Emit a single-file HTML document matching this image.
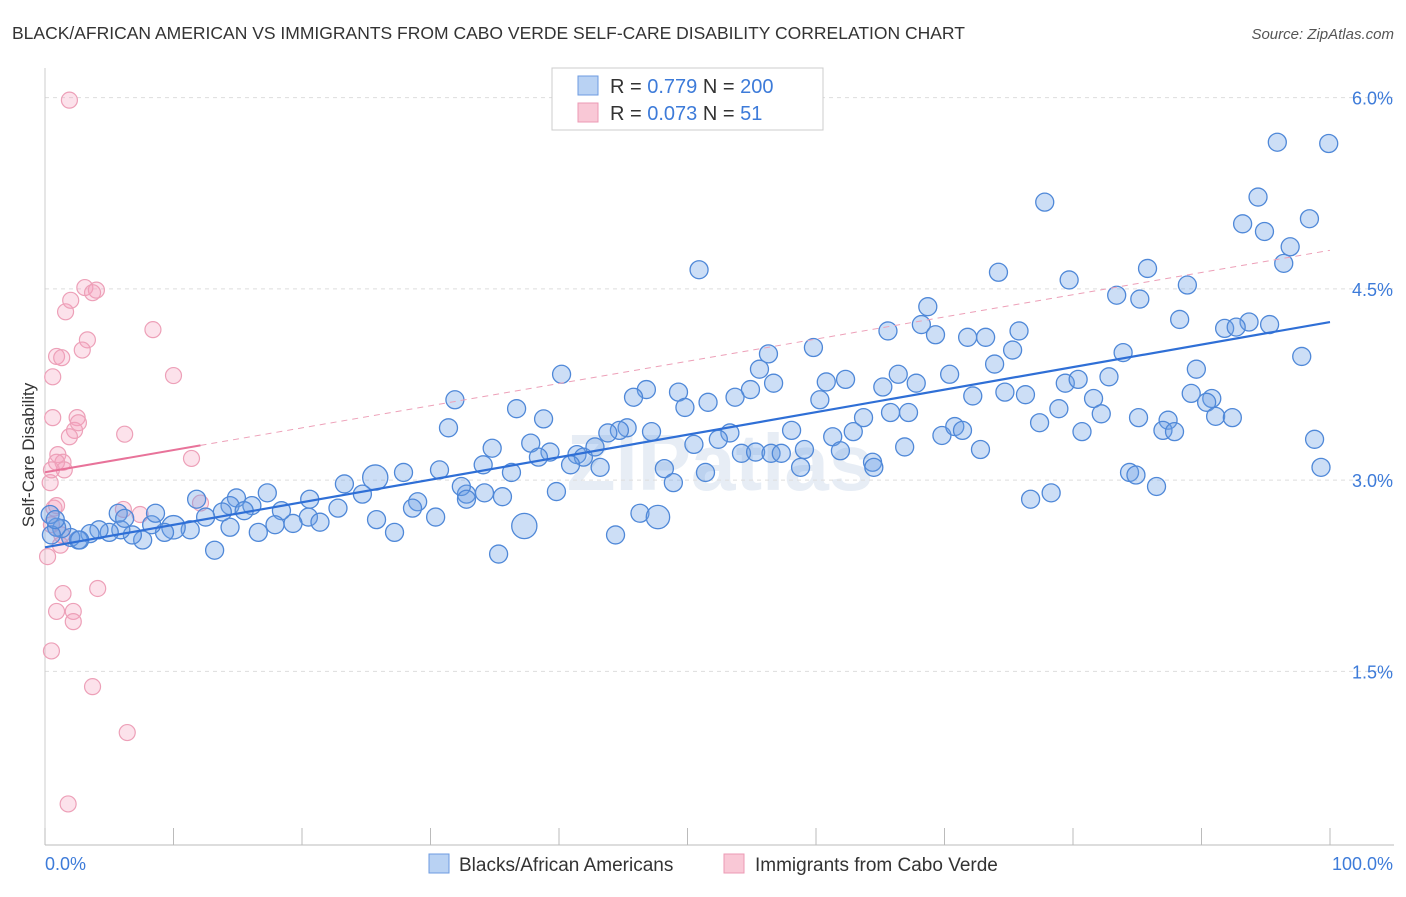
<!DOCTYPE html>
<html><head><meta charset="utf-8"><style>
body{margin:0;background:#fff;font-family:"Liberation Sans",sans-serif}
svg text{font-family:"Liberation Sans",sans-serif}
</style></head><body>
<svg id="chart" width="1406" height="892" xmlns="http://www.w3.org/2000/svg">
<text x="12" y="39" font-size="17.5" fill="#333">BLACK/AFRICAN AMERICAN VS IMMIGRANTS FROM CABO VERDE SELF-CARE DISABILITY CORRELATION CHART</text>
<text x="1394" y="39" font-size="15" fill="#555" text-anchor="end" font-style="italic">Source: ZipAtlas.com</text>
<text x="720" y="490" font-size="80" fill="#dde6f2" text-anchor="middle" font-weight="bold" opacity="0.7">ZIPatlas</text>
<g id="grid"></g><g id="axes"></g><g id="pts"></g><g id="trend"></g>
<text transform="translate(34,455) rotate(-90)" font-size="17" fill="#333" text-anchor="middle">Self-Care Disability</text>
<g>
<rect x="552" y="68" width="271" height="62" fill="#fff" stroke="#ccc"/>
<rect x="578" y="76" width="20" height="19" fill="#b9d2f3" stroke="#6d9be0"/>
<rect x="578" y="103" width="20" height="19" fill="#f9c8d6" stroke="#ec9ab4"/>
<text x="610" y="93" font-size="20" fill="#333">R = <tspan fill="#3d7bd9">0.779</tspan>   N = <tspan fill="#3d7bd9">200</tspan></text>
<text x="610" y="120" font-size="20" fill="#333">R = <tspan fill="#3d7bd9">0.073</tspan>   N =   <tspan fill="#3d7bd9">  51</tspan></text>
</g>
<g>
<rect x="429" y="854" width="20" height="19" fill="#b9d2f3" stroke="#6d9be0"/>
<text x="459" y="871" font-size="19" fill="#333">Blacks/African Americans</text>
<rect x="724" y="854" width="20" height="19" fill="#f9c8d6" stroke="#ec9ab4"/>
<text x="755" y="871" font-size="19" fill="#333">Immigrants from Cabo Verde</text>
</g>
</svg>
<script>
const yTicks=[1.5,3.0,4.5,6.0];
const yTickLabels=["1.5%","3.0%","4.5%","6.0%"];
const xLabels=["0.0%","100.0%"];
const blueX=[95.9,99.9,77.8,94.4,93.2,94.9,98.4,96.9,96.4,50.9,74.2,85.8,79.7,88.9,83.4,85.2,68.7,68.2,69.3,75.8,88.3,93.7,95.3,91.8,92.7,71.8,73.2,65.6,75.3,83.9,97.8,59.8,56.3,55.6,73.9,89.6,40.2,60.8,62.3,65.2,66.4,67.8,70.4,82.8,79.4,80.4,56.7,54.9,53.7,49.3,51.6,46.8,45.8,31.9,36.7,38.8,49.8,60.3,72.2,74.7,76.3,89.2,90.8,90.4,81.6,78.9,82.2,91.1,92.4,85.1,87.4,87.0,87.9,80.7,65.8,67.2,63.7,31.4,45.3,44.7,43.8,47.2,58.1,61.3,62.9,69.8,70.8,71.4,53.3,52.4,50.5,34.8,37.8,39.3,41.4,41.9,42.8,54.2,55.3,56.5,57.3,59.1,61.9,66.9,72.8,77.4,98.8,99.3,38.4,43.2,40.9,48.2,51.4,58.8,64.4,64.5,84.4,84.9,86.5,78.3,76.7,48.9,39.8,34.1,36.3,30.7,27.9,25.7,23.3,24.7,29.0,28.6,32.8,32.4,34.2,35.6,32.8,30.4,25.8,22.8,20.6,20.5,19.3,18.4,17.3,16.1,14.9,14.4,15.5,13.8,11.8,12.5,16.6,14.4,13.2,11.3,10.0,9.3,8.3,7.6,6.8,5.9,5.0,4.2,3.5,2.6,2.0,1.3,0.9,0.5,0.4,5.7,6.2,8.6,27.2,37.3,46.3,47.7,44.4,35.3,21.4,17.9,0.8,2.7];
const blueY=[5.65,5.64,5.18,5.22,5.01,4.95,5.05,4.83,4.70,4.65,4.63,4.66,4.57,4.53,4.45,4.42,4.36,4.22,4.14,4.17,4.26,4.24,4.22,4.19,4.20,4.12,4.12,4.17,4.02,4.00,3.97,4.04,3.99,3.87,3.91,3.87,3.83,3.77,3.79,3.73,3.83,3.76,3.83,3.81,3.76,3.79,3.76,3.71,3.65,3.69,3.61,3.71,3.65,3.63,3.56,3.48,3.57,3.63,3.66,3.69,3.67,3.68,3.64,3.61,3.64,3.56,3.52,3.50,3.49,3.49,3.47,3.39,3.38,3.38,3.53,3.53,3.49,3.41,3.41,3.39,3.37,3.38,3.39,3.34,3.38,3.35,3.42,3.39,3.37,3.32,3.28,3.25,3.29,3.22,3.20,3.18,3.26,3.21,3.22,3.21,3.21,3.24,3.23,3.26,3.24,3.45,3.32,3.10,3.18,3.10,3.12,3.09,3.06,3.10,3.14,3.10,3.06,3.04,2.95,2.90,2.85,2.98,2.91,3.12,3.06,3.08,3.06,3.02,2.97,2.89,2.83,2.78,2.89,2.95,2.90,2.87,2.85,2.71,2.69,2.78,2.85,2.71,2.66,2.76,2.90,2.80,2.86,2.80,2.76,2.75,2.85,2.71,2.59,2.63,2.45,2.61,2.63,2.59,2.65,2.53,2.57,2.61,2.59,2.61,2.58,2.53,2.55,2.62,2.63,2.57,2.73,2.74,2.70,2.74,2.59,2.64,2.74,2.71,2.57,2.42,2.67,2.65,2.69,2.53];
const blueW=[1,1,1,1,1,1,1,1,1,1,1,1,1,1,1,1,1,1,1,1,1,1,1,1,1,1,1,1,1,1,1,1,1,1,1,1,1,1,1,1,1,1,1,1,1,1,1,1,1,1,1,1,1,1,1,1,1,1,1,1,1,1,1,1,1,1,1,1,1,1,1,1,1,1,1,1,1,1,1,1,1,1,1,1,1,1,1,1,1,1,1,1,1,1,1,1,1,1,1,1,1,1,1,1,1,1,1,1,1,1,1,1,1,1,1,1,1,1,1,1,1,1,1,1,1,1,1,1.4,1,1,1,1,1,1,1,1,1,1,1,1,1,1,1,1,1,1,1,1,1,1,1,1,1,1,1,1,1.3,1,1,1,1,1,1,1,1,1,1,1,1,1,1,1,1,1,1,1.4,1,1.3,1,1,1,1,1,1,1,1,2,1.6];
const pinkX=[1.9,1.6,2.0,0.9,1.3,8.4,3.1,4.0,3.7,3.3,2.9,0.6,10.0,0.6,2.5,2.3,1.9,6.2,2.6,1.0,1.4,11.4,0.4,0.9,1.5,0.5,12.1,0.7,6.1,0.5,1.3,0.2,1.4,4.1,0.9,2.2,2.2,0.5,3.7,6.4,1.8,0.9,1.2,7.4];
const pinkY=[5.98,4.32,4.41,3.97,3.96,4.18,4.51,4.49,4.47,4.10,4.02,3.81,3.82,3.49,3.49,3.39,3.34,3.36,3.45,3.20,3.14,3.17,2.98,3.14,3.08,3.08,2.82,2.78,2.77,2.65,2.57,2.40,2.11,2.15,1.97,1.97,1.89,1.66,1.38,1.02,0.46,2.80,2.49,2.73];
const NS="http://www.w3.org/2000/svg";
const X0=45,X1=1330,YB=862.6,YK=127.5;
const xs=v=>X0+(X1-X0)*v/100, ys=v=>YB-v*YK;
function mk(tag,at,parent){const e=document.createElementNS(NS,tag);for(const k in at)e.setAttribute(k,at[k]);document.getElementById(parent).appendChild(e);return e;}
yTicks.forEach((t,i)=>{
 const g=mk('line',{x1:45,x2:1394,y1:ys(t),y2:ys(t),stroke:'#ddd','stroke-dasharray':'4,4'},'grid');
 
 
 const l=mk('text',{x:1393,y:ys(t)+7,'font-size':18,fill:'#3d7bd9','text-anchor':'end'},'axes');l.textContent=yTickLabels[i];
 
 
});
const ax=mk('line',{x1:45,x2:1394,y1:845,y2:845,stroke:'#bbb'},'axes');


const ay=mk('line',{x1:45,x2:45,y1:68,y2:845,stroke:'#ccc'},'axes');


for(let i=0;i<=10;i++){const t=mk('line',{x1:xs(i*10),x2:xs(i*10),y1:828,y2:845,stroke:'#bbb'},'axes');
 
 }
const xl0=mk('text',{x:45,y:870,'font-size':18,fill:'#3d7bd9'},'axes');xl0.textContent=xLabels[0];


const xl1=mk('text',{x:1393,y:870,'font-size':18,fill:'#3d7bd9','text-anchor':'end'},'axes');xl1.textContent=xLabels[1];


pinkX.forEach((x,i)=>{const c=mk('circle',{cx:xs(x),cy:ys(pinkY[i]),r:8,fill:'rgba(244,160,188,0.3)',stroke:'#eda0b8','stroke-width':1.2},'pts');
 
 });
blueX.forEach((x,i)=>{const c=mk('circle',{cx:xs(x),cy:ys(blueY[i]),r:9*blueW[i],fill:'rgba(110,160,230,0.35)',stroke:'#4f88d8','stroke-width':1.3},'pts');
 
 });
function reg(X,Y){const n=X.length;let mx=0,my=0;X.forEach((v,i)=>{mx+=v;my+=Y[i]});mx/=n;my/=n;let sxy=0,sxx=0;X.forEach((v,i)=>{sxy+=(v-mx)*(Y[i]-my);sxx+=(v-mx)*(v-mx)});const b=sxy/sxx;return [my-b*mx,b];}
const [ba,bb]=reg(blueX,blueY);
const bl=mk('line',{x1:xs(0),y1:ys(ba),x2:xs(100),y2:ys(ba+bb*100),stroke:'#2f6fd6','stroke-width':2.2},'trend');


const [pa,pb]=reg(pinkX,pinkY);const pm=Math.max(...pinkX);
const pl=mk('line',{x1:xs(0),y1:ys(pa),x2:xs(pm),y2:ys(pa+pb*pm),stroke:'#e8739a','stroke-width':2},'trend');


const pd=mk('line',{x1:xs(pm),y1:ys(pa+pb*pm),x2:xs(100),y2:ys(pa+pb*100),stroke:'#eda0b8','stroke-width':1,'stroke-dasharray':'6,5'},'trend');


</script>
</body></html>
